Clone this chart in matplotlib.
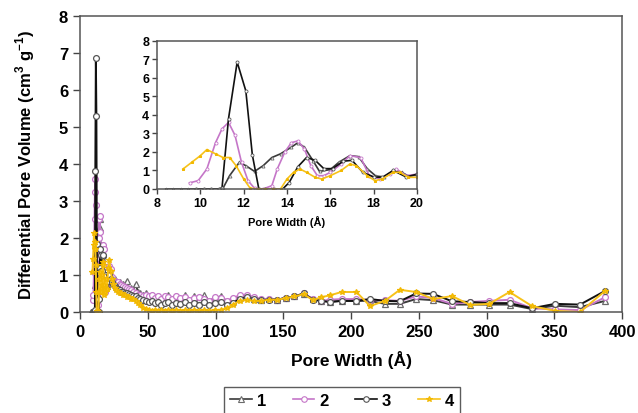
import matplotlib
matplotlib.use("Agg")
import matplotlib.pyplot as plt
from matplotlib.lines import Line2D

plt.rcParams['font.family'] = ['Liberation Sans', 'DejaVu Sans']
plt.rcParams['font.weight'] = 'bold'

# Micropore region (8-20 A), one grid per sample
x1_micro = [8.4, 8.75, 9.1, 9.45, 9.8, 10.15, 10.5, 10.85, 11.05, 11.35, 11.8, 12.1, 12.5,
            12.9, 13.3, 13.7, 14.2, 14.5, 14.8, 15.2, 15.5, 16.0, 16.4, 16.9, 17.3, 17.7,
            18.1, 18.5, 18.9, 19.3, 19.6, 20.0]
y1_micro = [0, 0, 0, 0, 0, 0, 0, 0, 0.05, 0.72, 1.44, 1.26, 0.95, 1.26, 1.7, 1.9, 2.26,
            2.5, 2.26, 1.53, 0.95, 1.05, 1.45, 1.8, 1.75, 1.1, 0.7, 0.65, 1.0, 0.9, 0.7, 0.75]

x2_micro = [9.5, 9.9, 10.3, 10.7, 11.0, 11.3, 11.6, 11.9, 12.2, 12.5, 12.9, 13.3, 13.55,
            13.9, 14.2, 14.5, 14.8, 15.1, 15.4, 15.7, 16.0, 16.5, 16.9, 17.4, 17.8, 18.3,
            18.75, 19.05, 19.5, 20.0]
y2_micro = [0.33, 0.45, 1.08, 2.5, 3.25, 3.6, 2.9, 1.44, 0.45, 0.04, 0, 0.18, 1.08, 2.0,
            2.5, 2.6, 2.17, 1.26, 0.72, 0.72, 0.9, 1.35, 1.8, 1.7, 0.72, 0.54, 0.8, 1.08,
            0.72, 0.8]

x3_micro = [9.8, 10.15, 10.5, 10.85, 11.0, 11.3, 11.7, 12.1, 12.4, 12.7, 13.0, 13.4, 13.8,
            14.1, 14.5, 14.9, 15.3, 15.7, 16.1, 16.6, 17.0, 17.5, 18.0, 18.4, 18.9, 19.5, 20.0]
y3_micro = [0, 0, 0, 0, 0.05, 3.8, 6.86, 5.3, 1.84, 0, 0, 0, 0, 0.35, 1.2, 1.7, 1.55, 1.1,
            1.1, 1.5, 1.55, 0.9, 0.65, 0.63, 1.0, 0.65, 0.8]

x4_micro = [9.2, 9.6, 10.0, 10.3, 10.7, 11.05, 11.35, 11.65, 12.0, 12.3, 12.65, 13.0, 13.35,
            13.7, 14.0, 14.3, 14.6, 14.9, 15.3, 15.6, 16.0, 16.5, 16.9, 17.2, 17.7, 18.06,
            18.4, 18.9, 19.2, 19.6, 20.0]
y4_micro = [1.08, 1.44, 1.8, 2.13, 1.9, 1.7, 1.7, 1.26, 0.54, 0.04, 0, 0, 0, 0, 0.54, 0.9,
            1.08, 0.9, 0.63, 0.54, 0.72, 1.0, 1.35, 1.26, 0.72, 0.45, 0.54, 0.9, 0.9, 0.63, 0.63]

# Meso/macropore region (> 20 A), shared width grid
x_wide = [20.8, 21.7, 22.6, 23.6, 24.6, 25.7, 26.8, 28.0, 29.2, 30.5, 31.8, 33.2, 34.6,
          36.1, 37.7, 39.3, 41.0, 42.8, 44.6, 46.5, 48.5, 50.6, 52.8, 55.1, 57.5, 60.0,
          62.6, 65.3, 68.1, 71.0, 74.1, 77.3, 80.6, 84.1, 87.7, 91.5, 95.4, 99.5, 103.8,
          108.3, 113.0, 117.8, 122.9, 128.2, 133.7, 139.4, 145.4, 151.7, 158.2, 165.0,
          172.0, 178.0, 184.5, 193.0, 204.0, 214.0, 225.0, 236.0, 248.0, 260.5, 274.5,
          288.0, 302.0, 317.0, 333.5, 350.5, 369.0, 387.5]
y1_wide = [0.9, 1.1, 1.0, 0.95, 0.85, 0.9, 0.8, 0.75, 0.8, 0.7, 0.75, 0.65, 0.85, 0.6, 0.65,
           0.6, 0.75, 0.55, 0.5, 0.45, 0.5, 0.4, 0.45, 0.38, 0.42, 0.3, 0.4, 0.45, 0.32,
           0.42, 0.35, 0.45, 0.3, 0.42, 0.35, 0.45, 0.3, 0.38, 0.42, 0.3, 0.35, 0.4, 0.42,
           0.35, 0.33, 0.36, 0.33, 0.38, 0.42, 0.48, 0.35, 0.3, 0.28, 0.3, 0.3, 0.3, 0.22,
           0.22, 0.35, 0.32, 0.2, 0.2, 0.2, 0.2, 0.08, 0.17, 0.13, 0.3]
y2_wide = [1.0, 1.25, 1.15, 0.95, 0.85, 0.85, 0.8, 0.8, 0.75, 0.72, 0.7, 0.68, 0.65, 0.62,
           0.6, 0.55, 0.5, 0.45, 0.45, 0.42, 0.45, 0.42, 0.45, 0.38, 0.42, 0.35, 0.42, 0.4,
           0.35, 0.42, 0.38, 0.4, 0.32, 0.38, 0.4, 0.35, 0.3, 0.4, 0.38, 0.3, 0.38, 0.45,
           0.47, 0.4, 0.35, 0.35, 0.33, 0.38, 0.42, 0.5, 0.35, 0.3, 0.33, 0.35, 0.35, 0.32,
           0.32, 0.3, 0.42, 0.38, 0.22, 0.27, 0.3, 0.33, 0.1, 0.07, 0.05, 0.4]
y3_wide = [0.85, 1.0, 0.9, 0.8, 0.75, 0.7, 0.65, 0.62, 0.6, 0.55, 0.55, 0.5, 0.5, 0.48,
           0.45, 0.42, 0.42, 0.38, 0.35, 0.33, 0.3, 0.28, 0.3, 0.25, 0.27, 0.2, 0.25, 0.27,
           0.2, 0.25, 0.22, 0.27, 0.2, 0.25, 0.2, 0.27, 0.2, 0.25, 0.27, 0.2, 0.25, 0.35,
           0.4, 0.35, 0.32, 0.33, 0.33, 0.38, 0.42, 0.5, 0.33, 0.3, 0.27, 0.3, 0.3, 0.35,
           0.3, 0.29, 0.5, 0.49, 0.29, 0.27, 0.24, 0.24, 0.1, 0.22, 0.2, 0.57]
y4_wide = [1.2, 1.4, 1.1, 0.9, 0.75, 0.65, 0.6, 0.55, 0.5, 0.5, 0.45, 0.45, 0.4, 0.4, 0.35,
           0.35, 0.3, 0.25, 0.2, 0.12, 0.08, 0.05, 0.04, 0.05, 0.04, 0.05, 0.04, 0.06, 0.04,
           0.05, 0.04, 0.05, 0.04, 0.05, 0.04, 0.05, 0.04, 0.05, 0.06, 0.1, 0.2, 0.3, 0.32,
           0.3, 0.3, 0.33, 0.33, 0.37, 0.42, 0.48, 0.32, 0.4, 0.45, 0.54, 0.54, 0.16, 0.3,
           0.6, 0.54, 0.35, 0.43, 0.19, 0.22, 0.54, 0.16, 0.03, 0.0, 0.57]

labels = ['1', '2', '3', '4']
colors = ['#3a3a3a', '#c576c8', '#111111', '#f7c21a']
marker_edges = ['#6a6a6a', '#c576c8', '#555555', '#f2b800']
markers = ['^', 'o', 'o', '*']
faces = ['white', 'white', 'white', '#f7c21a']

series = [
    (x1_micro + x_wide, y1_micro + y1_wide),
    (x2_micro + x_wide, y2_micro + y2_wide),
    (x3_micro + x_wide, y3_micro + y3_wide),
    (x4_micro + x_wide, y4_micro + y4_wide),
]

fig = plt.figure(figsize=(6.38, 4.14), dpi=100)
ax = fig.add_axes([0.1254, 0.244, 0.8496, 0.715])

for (xs, ys), c, me, m, fc in zip(series, colors, marker_edges, markers, faces):
    ax.plot(xs, ys, color=c, lw=1.4, marker=m, ms=4.2, mfc=fc, mec=me, mew=0.9)

ax.set_xlim(0, 400)
ax.set_ylim(0, 8)
ax.set_xticks(range(0, 401, 50))
ax.set_yticks(range(0, 9))
ax.tick_params(direction='out', length=5, width=1, labelsize=12, color='#444444')
for s in ax.spines.values():
    s.set_color('#555555')
    s.set_linewidth(1.1)
ax.set_xlabel('Pore Width (Å)', fontsize=12.5, fontweight='bold', labelpad=8)
ax.set_ylabel('Differential Pore Volume (cm$^{\\mathregular{3}}$ g$^{\\mathregular{-1}}$)',
              fontsize=12, fontweight='bold', labelpad=16)

# Inset zoomed on the micropore region
ins = fig.add_axes([0.2461, 0.5411, 0.4075, 0.3575])
for (xs, ys), c, me, m, fc in zip(series, colors, marker_edges, markers, faces):
    ins.plot(xs, ys, color=c, lw=1.2, marker=m, ms=2.2, mfc=fc, mec=me, mew=0.6)
ins.set_xlim(8, 20)
ins.set_ylim(0, 8)
ins.set_xticks(range(8, 21, 2))
ins.set_yticks(range(0, 9))
ins.tick_params(direction='out', length=3.5, width=1, labelsize=9, color='#444444', pad=2)
for s in ins.spines.values():
    s.set_color('#555555')
    s.set_linewidth(1.1)
ins.set_xlabel('Pore Width (Å)', fontsize=8, fontweight='bold', labelpad=5)

handles = [Line2D([], [], color=c, lw=1.2, marker=m, ms=4, mfc=fc, mec=me, mew=0.8)
           for c, me, m, fc in zip(colors, marker_edges, markers, faces)]
leg = fig.legend(handles, labels, loc='upper center', bbox_to_anchor=(0.536, 0.063),
                 borderaxespad=0, ncol=4, frameon=True, fancybox=False,
                 edgecolor='#333333', prop={'size': 12, 'weight': 'bold'},
                 handlelength=1.3, columnspacing=1.6, handletextpad=0.3, borderpad=0.35)
leg.get_frame().set_linewidth(1.0)

fig.savefig('out.png', dpi=100)
